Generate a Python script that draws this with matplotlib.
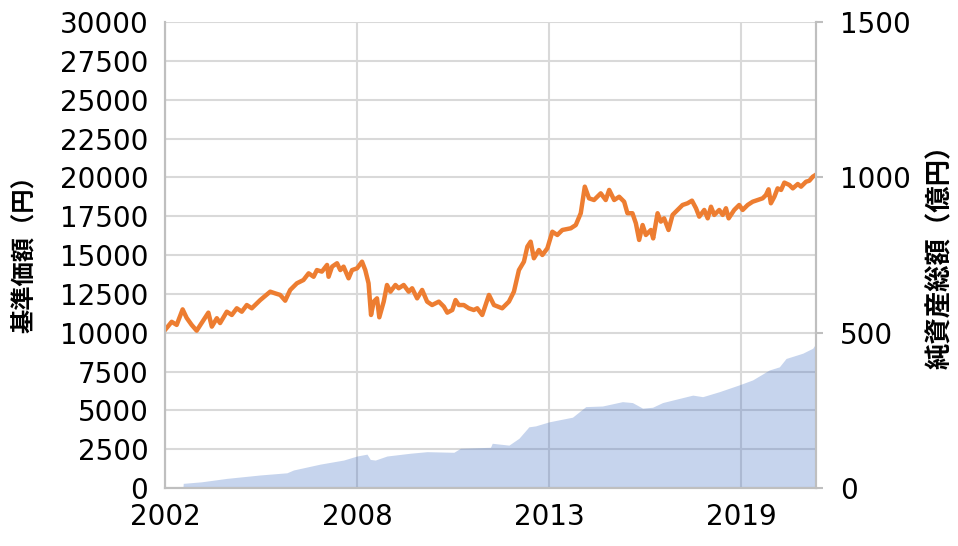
import matplotlib
matplotlib.use("Agg")
import matplotlib.pyplot as plt

plt.rcParams["font.family"] = ["DejaVu Sans", "Noto Sans CJK JP"]

# x positions: one tick interval = 100 (evenly spaced year labels)
year_ticks = [0, 100, 200, 300]
year_labels = ["2002", "2008", "2013", "2019"]
x_end = 339

# 基準価額 (円)
nav_x = [0, 3.5, 6.1, 9.2, 11.3, 13.9, 16.5, 19.1, 22.6, 24.4, 27.0, 28.7,
         32.2, 34.8, 37.4, 40.0, 42.6, 45.2, 49.6, 54.8, 57.4, 60.0, 62.6,
         65.2, 68.7, 72.1, 74.8, 77.4, 79.1, 81.7, 84.4, 85.2, 87.0, 89.6,
         91.3, 93.0, 95.6, 97.4, 100.0, 102.6, 104.3, 106.0, 107.3, 108.7,
         110.4, 111.6, 113.9, 115.6, 117.4, 120.0, 121.7, 124.3, 126.9,
         128.7, 131.3, 133.9, 136.5, 139.1, 142.6, 145.2, 147.0, 149.6,
         151.3, 153.0, 155.6, 158.2, 160.8, 162.6, 165.2, 168.7, 171.3,
         175.6, 179.1, 181.7, 184.3, 186.9, 188.7, 190.4, 192.1, 194.7,
         196.5, 199.1, 201.7, 204.3, 206.9, 211.3, 213.9, 216.5, 218.6,
         220.8, 223.4, 226.9, 229.5, 231.3, 233.9, 236.5, 239.1, 240.8,
         243.4, 245.2, 246.9, 248.7, 250.4, 253.0, 254.2, 256.5, 258.2,
         259.9, 262.2, 264.3, 266.9, 269.5, 272.1, 274.4, 276.5, 278.2,
         280.8, 282.6, 284.3, 286.0, 288.6, 290.4, 292.1, 293.5, 296.4,
         299.0, 300.8, 303.4, 306.0, 308.6, 311.2, 312.9, 314.3, 315.5,
         317.3, 319.0, 320.8, 322.5, 325.1, 326.9, 329.5, 331.2, 333.8,
         335.5, 337.3, 338.7]
nav = [10170, 10700, 10500, 11500, 10950, 10500, 10130, 10620, 11290, 10390,
       10930, 10620, 11350, 11140, 11570, 11350, 11780, 11570, 12100, 12640,
       12530, 12430, 12060, 12750, 13180, 13390, 13820, 13600, 14030, 13930,
       14360, 13600, 14250, 14470, 14030, 14250, 13500, 14030, 14140, 14570,
       14030, 13180, 11140, 12000, 12210, 10990, 12000, 13070, 12640, 13070,
       12860, 13070, 12640, 12860, 12210, 12750, 12000, 11780, 12000, 11680,
       11290, 11460, 12100, 11780, 11780, 11570, 11460, 11570, 11140, 12430,
       11780, 11570, 12000, 12640, 14030, 14570, 15540, 15860, 14790, 15320,
       15000, 15430, 16500, 16290, 16610, 16720, 16930, 17690, 19400, 18650,
       18540, 18970, 18540, 19190, 18540, 18750, 18430, 17690, 17690, 17040,
       15970, 16930, 16290, 16610, 16070, 17690, 17150, 17360, 16610, 17580,
       17900, 18220, 18330, 18500, 18010, 17470, 17900, 17360, 18110, 17580,
       17900, 17580, 18010, 17360, 17900, 18220, 17900, 18220, 18430, 18540,
       18650, 18860, 19230, 18330, 18750, 19290, 19190, 19660, 19510, 19290,
       19570, 19400, 19720, 19780, 20040, 20150]

# 純資産総額 (億円)
aum_x = [0, 9.4, 9.5, 19.1, 32.2, 49.6, 63.5, 66.9, 80.9, 93.0, 100.0, 105.2,
         106.9, 109.5, 115.6, 127.8, 136.5, 150.4, 153.9, 169.5, 170.4,
         179.1, 184.3, 189.5, 193.0, 200.0, 212.2, 219.1, 227.8, 238.2,
         243.4, 248.7, 253.9, 259.1, 264.3, 274.8, 280.0, 288.6, 299.0,
         306.0, 314.7, 319.9, 323.4, 332.1, 337.3, 339.0]
aum = [2, 4, 15, 20, 31, 42, 49, 58, 77, 90, 103, 109, 92, 90, 103, 112, 117,
       115, 128, 131, 144, 138, 160, 197, 200, 213, 228, 262, 264, 278, 275,
       257, 260, 275, 283, 299, 294, 310, 332, 348, 380, 390, 417, 434, 450,
       466]

fig = plt.figure(figsize=(9.58, 5.46), dpi=100)
ax = fig.add_axes([0.1722, 0.1062, 0.6796, 0.8535])
ax2 = ax.twinx()

ax.plot(nav_x, nav, color="#ED7D31", linewidth=3.2, solid_joinstyle="round")
ax2.fill_between(aum_x, aum, 0, color="#4472C4", alpha=0.3, linewidth=0)

ax.set_xlim(0, x_end)
ax.set_ylim(0, 30000)
ax.set_yticks(range(0, 30001, 2500))
ax2.set_ylim(0, 1500)
ax2.set_yticks([0, 500, 1000, 1500])
ax.set_xticks(year_ticks)
ax.set_xticklabels(year_labels)

ax.grid(True, color="#d9d9d9", linewidth=1.5)
ax.set_axisbelow(True)

for a in (ax, ax2):
    for s in a.spines.values():
        s.set_color("#bfbfbf")
        s.set_linewidth(1.5)
    a.spines["top"].set_visible(False)

ax.tick_params(axis="y", length=0, pad=12, labelsize=20)
ax.tick_params(axis="x", length=0, pad=11, labelsize=20)
ax2.tick_params(axis="y", length=5, width=1.5, color="#bfbfbf", pad=12,
                labelsize=20)

ax.set_ylabel("基準価額（円）", fontsize=17.5, fontweight="bold")
ax.yaxis.set_label_coords(-0.197, 0.515)
ax2.set_ylabel("純資産総額（億円）", fontsize=19, fontweight="bold",
               rotation=90)
ax2.yaxis.set_label_coords(1.172, 0.51)

fig.savefig("out.png", dpi=100)
